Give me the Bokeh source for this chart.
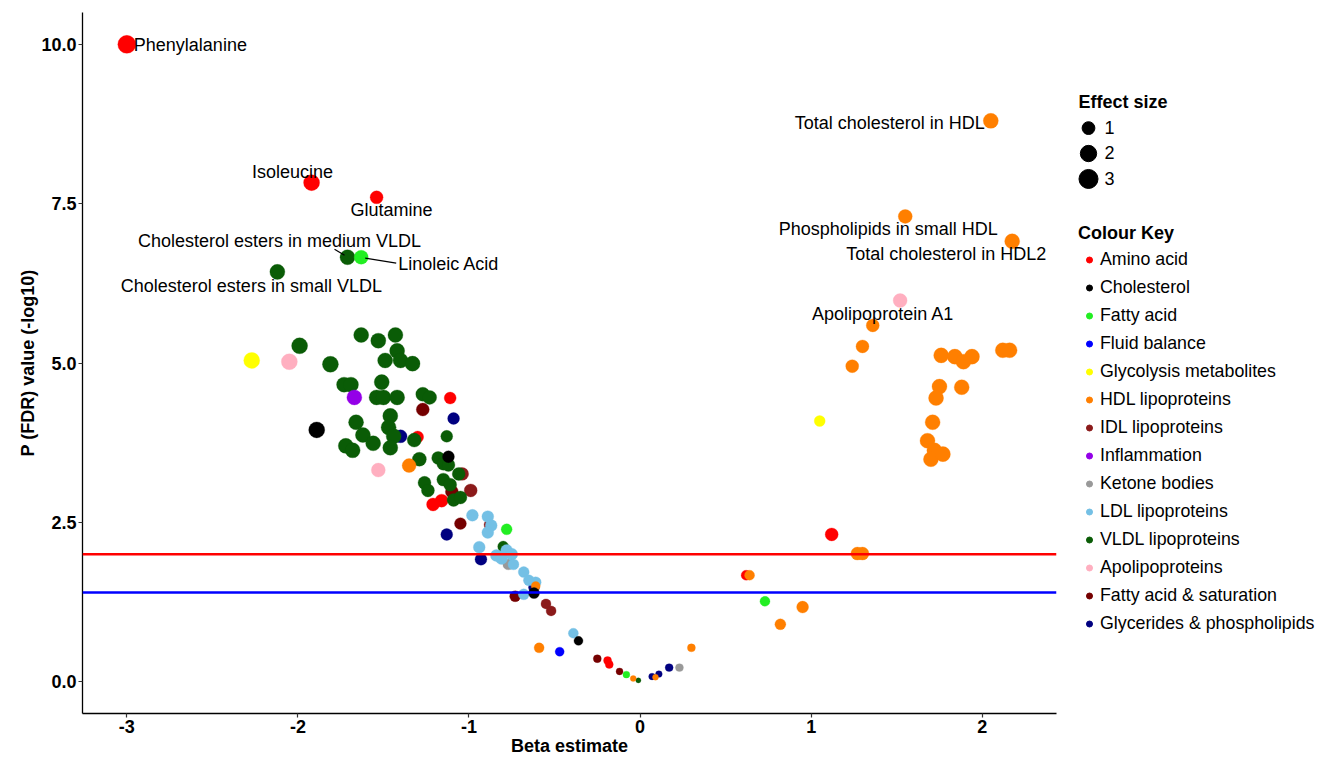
import math
from bokeh.plotting import figure
from bokeh.models import Range1d, FixedTicker, NumeralTickFormatter, Span, Legend, LegendItem, ColumnDataSource
from bokeh.layouts import row
from bokeh.core.properties import value
from bokeh.embed import file_html
from bokeh.resources import INLINE

FONT = "Liberation Sans"

# ---------------- data ----------------
CATEGORIES = ["Amino acid", "Cholesterol", "Fatty acid", "Fluid balance", "Glycolysis metabolites",
              "HDL lipoproteins", "IDL lipoproteins", "Inflammation", "Ketone bodies", "LDL lipoproteins",
              "VLDL lipoproteins", "Apolipoproteins", "Fatty acid & saturation", "Glycerides & phospholipids"]
COLOURS = ["#FF0000", "#000000", "#22EE22", "#0000FF", "#FFFF00",
           "#FF7F00", "#8B1A1A", "#9400E8", "#999999", "#74C0E5",
           "#0A5C06", "#FFAFC0", "#750000", "#000080"]

# labelled metabolites
LABEL_NAMES = ["Phenylalanine", "Isoleucine", "Glutamine", "Cholesterol esters in medium VLDL", "Linoleic Acid",
               "Cholesterol esters in small VLDL", "Total cholesterol in HDL", "Phospholipids in small HDL",
               "Total cholesterol in HDL2", "Apolipoprotein A1"]
LABEL_CAT = ["Amino acid", "Amino acid", "Amino acid", "VLDL lipoproteins", "Fatty acid",
             "VLDL lipoproteins", "HDL lipoproteins", "HDL lipoproteins", "HDL lipoproteins", "Apolipoproteins"]
LABEL_BETA = [-3.00, -1.92, -1.54, -1.71, -1.63, -2.12, 2.05, 1.55, 2.175, 1.52]
LABEL_P = [10.00, 7.83, 7.60, 6.66, 6.66, 6.43, 8.80, 7.30, 6.91, 5.98]
LABEL_ES = [2.6, 1.9, 1.05, 1.6, 1.3, 1.6, 1.6, 1.3, 1.6, 1.3]

AMINO_BETA = [-1.11, -1.30, -1.21, -1.16, 1.12, 0.62, -0.19, -0.18]
AMINO_P = [4.45, 3.84, 2.78, 2.84, 2.31, 1.67, 0.33, 0.27]
AMINO_ES = [0.82, 0.8, 1.05, 1.05, 1.05, 0.45, 0.19, 0.19]

CHOL_BETA = [-1.89, -1.12, -0.62, -0.36]
CHOL_P = [3.95, 3.53, 1.39, 0.64]
CHOL_ES = [1.9, 0.8, 0.62, 0.31]

FA_BETA = [-0.78, 0.73, -0.08]
FA_P = [2.39, 1.26, 0.11]
FA_ES = [0.62, 0.45, 0.1]

FLUID_BETA = [-0.47]
FLUID_P = [0.47]
FLUID_ES = [0.31]

GLYC_BETA = [-2.27, 1.05]
GLYC_P = [5.04, 4.09]
GLYC_ES = [1.9, 0.62]

HDL_BETA = [1.36, 1.30, 1.24, 1.76, 1.84, 1.89, 1.94, 2.12, 2.16, 1.75, 1.73, 1.88, 1.71, 1.68, 1.72,
            1.70, 1.77, 1.27, 1.30, 0.64, 0.95, 0.82, -1.35, -0.61, -0.59, -0.04, 0.09, 0.30]
HDL_P = [5.59, 5.26, 4.95, 5.12, 5.10, 5.02, 5.10, 5.20, 5.20, 4.63, 4.45, 4.62, 4.07, 3.78, 3.63,
         3.49, 3.57, 2.01, 2.01, 1.67, 1.17, 0.90, 3.39, 1.50, 0.53, 0.05, 0.07, 0.53]
HDL_ES = [1.05, 1.05, 1.05, 1.6, 1.6, 1.6, 1.6, 1.6, 1.6, 1.6, 1.6, 1.6, 1.6, 1.6, 1.6,
          1.6, 1.6, 1.05, 1.05, 0.45, 0.8, 0.62, 1.3, 0.31, 0.45, 0.04, 0.04, 0.19]

IDL_BETA = [-1.16, -1.04, -0.99, -0.88, -0.55, -0.52]
IDL_P = [3.48, 3.26, 3.00, 2.46, 1.22, 1.11]
IDL_ES = [0.8, 1.05, 1.05, 0.62, 0.45, 0.45]

INFL_BETA = [-1.67]
INFL_P = [4.46]
INFL_ES = [1.6]

KET_BETA = [-0.77, 0.23]
KET_P = [1.84, 0.22]
KET_ES = [0.62, 0.19]

LDL_BETA = [-0.98, -0.89, -0.87, -0.89, -0.94, -0.84, -0.81, -0.78, -0.75, -0.74, -0.68, -0.65, -0.61, -0.68, -0.39]
LDL_P = [2.61, 2.59, 2.45, 2.34, 2.11, 1.98, 1.93, 2.06, 2.00, 1.84, 1.72, 1.59, 1.56, 1.37, 0.76]
LDL_ES = [0.8, 0.8, 0.8, 0.8, 0.8, 0.8, 0.8, 0.8, 0.8, 0.62, 0.62, 0.62, 0.62, 0.62, 0.45]

VLDL_BETA = [-1.99, -1.81, -1.63, -1.53, -1.43, -1.42, -1.49, -1.40, -1.33, -1.73, -1.69, -1.51, -1.54, -1.50,
             -1.42, -1.27, -1.23, -1.66, -1.46, -1.47, -1.44, -1.62, -1.56, -1.72, -1.68, -1.46, -1.32, -1.13,
             -1.29, -1.18, -1.15, -1.12, -1.06, -1.26, -1.24, -1.15, -1.11, -1.09, -1.05, -0.80, -0.01]
VLDL_P = [5.27, 4.98, 5.44, 5.35, 5.44, 5.19, 5.04, 5.04, 4.99, 4.66, 4.66, 4.70, 4.46, 4.46,
          4.46, 4.51, 4.46, 4.07, 4.17, 3.99, 3.85, 3.87, 3.74, 3.70, 3.63, 3.67, 3.79, 3.85,
          3.49, 3.51, 3.42, 3.40, 3.26, 3.12, 3.00, 3.17, 3.09, 2.85, 2.89, 2.12, 0.02]
VLDL_ES = [1.9, 1.9, 1.6, 1.6, 1.6, 1.6, 1.6, 1.6, 1.6, 1.6, 1.6, 1.6, 1.6, 1.6,
           1.6, 1.3, 1.3, 1.6, 1.6, 1.6, 1.6, 1.6, 1.6, 1.6, 1.6, 1.6, 1.3, 0.8,
           1.3, 1.05, 1.05, 1.05, 1.05, 1.05, 1.05, 1.05, 1.05, 1.05, 1.05, 0.62, 0.01]

APO_BETA = [-2.05, -1.53]
APO_P = [5.02, 3.32]
APO_ES = [1.9, 1.3]

FASAT_BETA = [-1.27, -1.10, -1.05, -0.73, -0.25, -0.12]
FASAT_P = [4.27, 2.98, 2.48, 1.34, 0.36, 0.16]
FASAT_ES = [1.05, 1.05, 0.8, 0.62, 0.19, 0.1]

GLYCER_BETA = [-1.09, -1.40, -1.13, -0.93, -0.62, 0.07, 0.11, 0.17]
GLYCER_P = [4.13, 3.85, 2.31, 1.92, 1.48, 0.08, 0.12, 0.22]
GLYCER_ES = [0.8, 1.05, 0.8, 0.8, 0.62, 0.08, 0.08, 0.19]

THRESH_FDR = 2.0
THRESH_NOM = 1.4
X_TICKS = [-3, -2, -1, 0, 1, 2]
Y_TICKS = [0, 2.5, 5, 7.5, 10]
SIZE_BREAKS = [1, 2, 3]

SERIES = {
    "Amino acid": (AMINO_BETA, AMINO_P, AMINO_ES),
    "Cholesterol": (CHOL_BETA, CHOL_P, CHOL_ES),
    "Fatty acid": (FA_BETA, FA_P, FA_ES),
    "Fluid balance": (FLUID_BETA, FLUID_P, FLUID_ES),
    "Glycolysis metabolites": (GLYC_BETA, GLYC_P, GLYC_ES),
    "HDL lipoproteins": (HDL_BETA, HDL_P, HDL_ES),
    "IDL lipoproteins": (IDL_BETA, IDL_P, IDL_ES),
    "Inflammation": (INFL_BETA, INFL_P, INFL_ES),
    "Ketone bodies": (KET_BETA, KET_P, KET_ES),
    "LDL lipoproteins": (LDL_BETA, LDL_P, LDL_ES),
    "VLDL lipoproteins": (VLDL_BETA, VLDL_P, VLDL_ES),
    "Apolipoproteins": (APO_BETA, APO_P, APO_ES),
    "Fatty acid & saturation": (FASAT_BETA, FASAT_P, FASAT_ES),
    "Glycerides & phospholipids": (GLYCER_BETA, GLYCER_P, GLYCER_ES),
}

# ---------------- style ----------------
def size_px(es):
    # area-style size scale (like ggplot scale_size)
    return 4.3 + 8.5 * math.sqrt(es)

DRAW_ORDER = ["IDL lipoproteins", "Amino acid", "Fatty acid & saturation", "Glycerides & phospholipids",
              "VLDL lipoproteins", "Ketone bodies", "LDL lipoproteins", "HDL lipoproteins", "Cholesterol",
              "Fatty acid", "Fluid balance", "Glycolysis metabolites", "Inflammation", "Apolipoproteins"]

# label text placement (screen-pixel offsets from the labelled point)
LABEL_LAYOUT = {
    "Phenylalanine": (7, 1, "left"),
    "Isoleucine": (-19, -11, "center"),
    "Glutamine": (15, 13, "center"),
    "Cholesterol esters in medium VLDL": (-68, -16, "center"),
    "Linoleic Acid": (37, 7, "left"),
    "Cholesterol esters in small VLDL": (-26, 14, "center"),
    "Total cholesterol in HDL": (-6, 2, "right"),
    "Phospholipids in small HDL": (-17, 13, "center"),
    "Total cholesterol in HDL2": (-66, 13, "center"),
    "Apolipoprotein A1": (-17, 13, "center"),
}
LEADERS = {  # (start offset px, end offset px)
    "Cholesterol esters in medium VLDL": ((-13, -8), (-3, -2)),
    "Linoleic Acid": ((4, 1), (35, 6)),
}

BORDER_L, BORDER_R, BORDER_T = 82, 10, 12
FRAME_W = 974
W_MAIN, H = BORDER_L + FRAME_W + BORDER_R, 758
W_LEG = 260
XR = (-3.259, 2.434)
YR = (-0.5, 10.5)

p = figure(width=W_MAIN, height=H, x_range=Range1d(*XR), y_range=Range1d(*YR),
           output_backend="svg", toolbar_location=None,
           min_border_left=BORDER_L, min_border_right=BORDER_R, min_border_top=BORDER_T, min_border_bottom=0,
           x_axis_label="Beta estimate", y_axis_label="P (FDR) value (-log10)")
p.xgrid.visible = False
p.ygrid.visible = False
p.outline_line_color = None
p.background_fill_color = "white"
p.border_fill_color = "white"

for ax in (p.xaxis[0], p.yaxis[0]):
    ax.axis_line_color = "black"
    ax.axis_line_width = 1.3
    ax.major_tick_line_color = "#333333"
    ax.major_tick_line_width = 1.2
    ax.major_tick_out = 4
    ax.major_tick_in = 0
    ax.minor_tick_line_color = None
    ax.major_label_text_font = FONT
    ax.major_label_text_font_size = "18px"
    ax.major_label_text_font_style = "bold"
    ax.major_label_text_color = "black"
    ax.major_label_standoff = 2
    ax.axis_label_text_font = FONT
    ax.axis_label_text_font_size = "18px"
    ax.axis_label_text_font_style = "bold"
    ax.axis_label_text_color = "black"
    ax.axis_label_standoff = 0
p.xaxis.ticker = FixedTicker(ticks=X_TICKS)
p.xaxis.formatter = NumeralTickFormatter(format="0")
p.yaxis.ticker = FixedTicker(ticks=Y_TICKS)
p.yaxis.formatter = NumeralTickFormatter(format="0.0")

colour_of = dict(zip(CATEGORIES, COLOURS))

def category_points(cat):
    b, pv, es = SERIES[cat]
    b = list(b); pv = list(pv); es = list(es)
    for c, lb, lp, le in zip(LABEL_CAT, LABEL_BETA, LABEL_P, LABEL_ES):
        if c == cat:
            b.append(lb); pv.append(lp); es.append(le)
    return b, pv, es

for cat in DRAW_ORDER:
    b, pv, es = category_points(cat)
    src = ColumnDataSource(dict(x=b, y=pv, s=[size_px(e) for e in es]))
    p.scatter("x", "y", size="s", source=src, fill_color=colour_of[cat], line_color=colour_of[cat],
              line_alpha=0.6, line_width=0.5)

# threshold lines
p.add_layout(Span(location=THRESH_FDR, dimension="width", line_color="#FF0000", line_width=2.5))
p.add_layout(Span(location=THRESH_NOM, dimension="width", line_color="#0000FF", line_width=2.5))

# leader lines (px offsets converted with the frame scale)
frame_h = 701
xs = (XR[1] - XR[0]) / FRAME_W
ys = (YR[1] - YR[0]) / frame_h
x0s, y0s, x1s, y1s = [], [], [], []
for nm, lb, lp in zip(LABEL_NAMES, LABEL_BETA, LABEL_P):
    if nm in LEADERS:
        (a, bq), (c, d) = LEADERS[nm]
        x0s.append(lb + a * xs); y0s.append(lp - bq * ys)
        x1s.append(lb + c * xs); y1s.append(lp - d * ys)
p.segment(x0=x0s, y0=y0s, x1=x1s, y1=y1s, line_color="black", line_width=1.2)

# labels
for align in ("left", "center", "right"):
    sel = [i for i, nm in enumerate(LABEL_NAMES) if LABEL_LAYOUT[nm][2] == align]
    src = ColumnDataSource(dict(
        x=[LABEL_BETA[i] for i in sel], y=[LABEL_P[i] for i in sel],
        t=[LABEL_NAMES[i] for i in sel],
        xo=[LABEL_LAYOUT[LABEL_NAMES[i]][0] for i in sel],
        yo=[LABEL_LAYOUT[LABEL_NAMES[i]][1] for i in sel]))
    p.text(x="x", y="y", text="t", x_offset="xo", y_offset="yo", source=src,
           text_align=align, text_baseline="middle", text_font=value(FONT),
           text_font_size="18px", text_color="black")

# ---------------- legend panel ----------------
leg = figure(width=W_LEG, height=H, x_range=Range1d(0, W_LEG), y_range=Range1d(H, 0),
             output_backend="svg", toolbar_location=None, x_axis_type=None, y_axis_type=None,
             min_border=0, outline_line_color=None)
leg.xgrid.visible = False
leg.ygrid.visible = False

# Effect size key
ES_TITLE_Y = 97
ES_ROW0 = 125
ES_STEP = 27.5
leg.text(x=[12], y=[ES_TITLE_Y], text=["Effect size"], text_font=value(FONT), text_font_size="18px",
         text_font_style="bold", text_baseline="middle", text_align="left", text_color="black")
ys_rows = [ES_ROW0 + i * ES_STEP for i in range(len(SIZE_BREAKS))]
leg.scatter(x=[22] * len(SIZE_BREAKS), y=ys_rows, size=[size_px(v) for v in SIZE_BREAKS], color="black")
leg.text(x=[38] * len(SIZE_BREAKS), y=[v - 1 for v in ys_rows], text=[str(v) for v in SIZE_BREAKS],
         text_font=value(FONT), text_font_size="18px", text_baseline="middle", text_align="left",
         text_color="black")

# Colour key legend (hidden renderers carry each category's data; legend draws their glyph)
items = []
for cat, col in zip(CATEGORIES, COLOURS):
    b, pv, es = category_points(cat)
    r = leg.scatter(x=b, y=pv, color=col, visible=False)
    items.append(LegendItem(label=cat, renderers=[r]))
lg = Legend(items=items, title="Colour Key", location=(12, 79),
            title_text_font=FONT, title_text_font_size="18px", title_text_font_style="bold",
            title_text_color="black", title_standoff=5,
            label_text_font=FONT, label_text_font_size="17.8px", label_text_color="black",
            label_standoff=0, label_height=20, glyph_width=22, glyph_height=15, spacing=7,
            padding=0, margin=0, border_line_color=None, background_fill_alpha=0,
            inactive_fill_alpha=0, click_policy="none")
leg.add_layout(lg, "center")

layout = row(p, leg)
open("out.html", "w").write(file_html(layout, INLINE))
